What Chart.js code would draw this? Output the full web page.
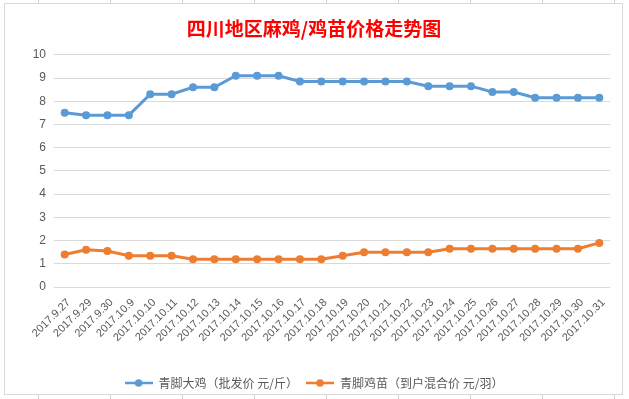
<!DOCTYPE html>
<html>
<head>
<meta charset="utf-8">
<script src="https://cdn.jsdelivr.net/npm/chart.js@4"></script>
<style>
  html, body { margin: 0; padding: 0; }
  body {
    width: 629px; height: 399px; position: relative; overflow: hidden;
    background-color: #ffffff;
    background-image: repeating-linear-gradient(to right, transparent 0, transparent 38px, #d4d4d4 38px, #d4d4d4 39px, transparent 39px, transparent 72px);
  }
  #frame {
    position: absolute; left: 4px; top: 3px; width: 617px; height: 390px;
    border: 1px solid #d9d9d9; background: #ffffff;
  }
  #wrap { position: absolute; left: 0; top: 0; width: 629px; height: 399px; }
</style>
</head>
<body>
<div id="frame"></div>
<div id="wrap"><canvas id="c" width="629" height="399"></canvas></div>
<script>
const titleText = '四川地区麻鸡/鸡苗价格走势图';
const categories = [
  '2017.9.27','2017.9.29','2017.9.30','2017.10.9','2017.10.10','2017.10.11','2017.10.12',
  '2017.10.13','2017.10.14','2017.10.15','2017.10.16','2017.10.17','2017.10.18','2017.10.19',
  '2017.10.20','2017.10.21','2017.10.22','2017.10.23','2017.10.24','2017.10.25','2017.10.26',
  '2017.10.27','2017.10.28','2017.10.29','2017.10.30','2017.10.31'
];
const seriesNames = ['青脚大鸡（批发价 元/斤）', '青脚鸡苗（到户混合价 元/羽）'];
const broilerPrices = [7.5,7.4,7.4,7.4,8.3,8.3,8.6,8.6,9.1,9.1,9.1,8.85,8.85,8.85,8.85,8.85,8.85,8.65,8.65,8.65,8.4,8.4,8.15,8.15,8.15,8.15];
const chickPrices = [1.4,1.6,1.55,1.35,1.35,1.35,1.2,1.2,1.2,1.2,1.2,1.2,1.2,1.35,1.5,1.5,1.5,1.5,1.65,1.65,1.65,1.65,1.65,1.65,1.65,1.9];
const yMin = 0, yMax = 10, yStep = 1;
const colors = ['#5B9BD5', '#ED7D31'];

function legendMarker(color) {
  const cv = document.createElement('canvas');
  cv.width = 28; cv.height = 10;
  const g = cv.getContext('2d');
  g.strokeStyle = color; g.lineWidth = 2.5;
  g.beginPath(); g.moveTo(0, 5); g.lineTo(28, 5); g.stroke();
  g.fillStyle = color;
  g.beginPath(); g.arc(14, 5, 3.8, 0, Math.PI * 2); g.fill();
  return cv;
}
const markers = colors.map(legendMarker);

new Chart(document.getElementById('c'), {
  type: 'line',
  data: {
    labels: categories,
    datasets: [
      { label: seriesNames[0], data: broilerPrices, borderColor: colors[0], backgroundColor: colors[0],
        borderWidth: 3, pointRadius: 4, pointBorderWidth: 0, tension: 0 },
      { label: seriesNames[1], data: chickPrices, borderColor: colors[1], backgroundColor: colors[1],
        borderWidth: 3, pointRadius: 4, pointBorderWidth: 0, tension: 0 }
    ]
  },
  options: {
    responsive: false,
    animation: false,
    layout: { padding: { left: 18, right: 19, top: 0, bottom: 0 } },
    scales: {
      x: {
        offset: true,
        grid: { display: false, drawTicks: false },
        border: { display: false },
        ticks: {
          autoSkip: false, maxRotation: 45, minRotation: 45, padding: 9, labelOffset: 4,
          color: '#595959', font: { family: 'Liberation Sans', size: 11 }
        },
        afterFit(scale) { scale.height = 82; }
      },
      y: {
        min: yMin, max: yMax,
        grid: { color: '#d9d9d9', lineWidth: 1, drawTicks: false },
        border: { display: false },
        ticks: {
          stepSize: yStep, padding: 8,
          color: '#595959', font: { family: 'Liberation Sans', size: 12 }
        },
        afterFit(scale) { scale.width = 36; }
      }
    },
    plugins: {
      title: {
        display: true, text: titleText, color: '#FF0000',
        font: { family: 'Noto Sans CJK SC', size: 19, weight: 'bold' },
        padding: { top: 17, bottom: 15 }
      },
      legend: {
        position: 'bottom',
        labels: {
          usePointStyle: true, pointStyleWidth: 28, boxHeight: 10, padding: 8,
          color: '#595959', font: { family: 'Noto Sans CJK SC', size: 12 },
          generateLabels(chart) {
            const items = Chart.defaults.plugins.legend.labels.generateLabels(chart);
            items.forEach((it, i) => { it.pointStyle = markers[i]; });
            return items;
          }
        }
      },
      tooltip: { enabled: false }
    }
  }
});
</script>
</body>
</html>
